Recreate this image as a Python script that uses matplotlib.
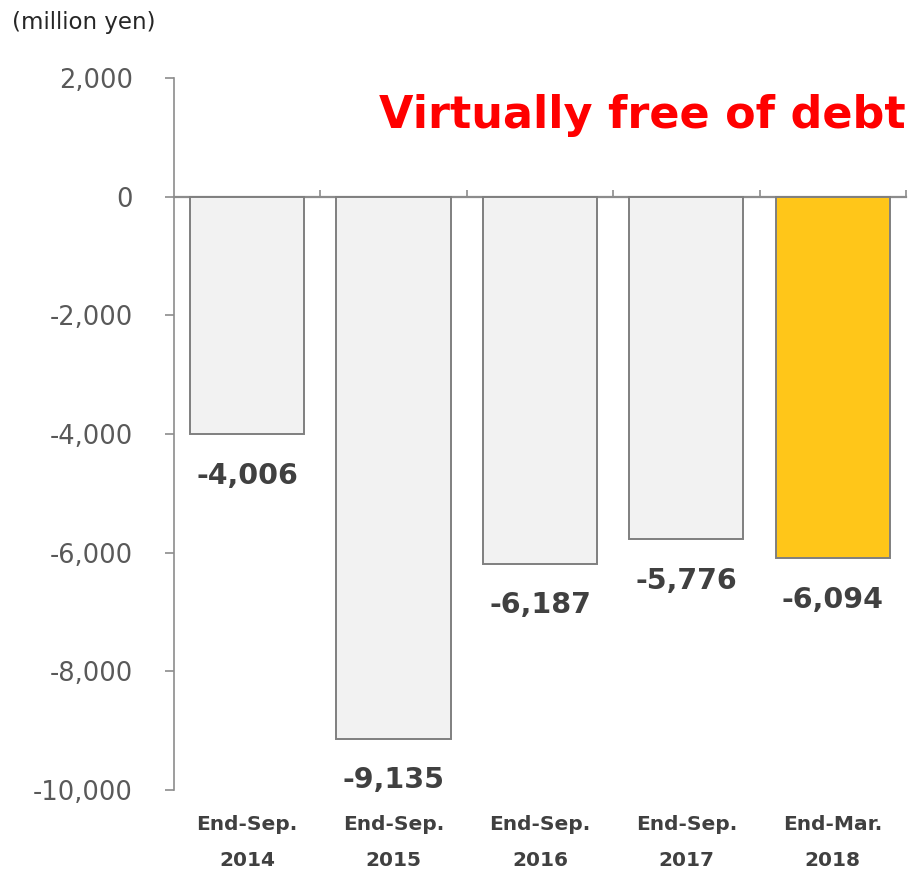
import matplotlib.pyplot as plt

periods = ["End-Sep.\n2014", "End-Sep.\n2015", "End-Sep.\n2016", "End-Sep.\n2017", "End-Mar.\n2018"]
net_debt = [-4006, -9135, -6187, -5776, -6094]
bar_colors = ["#f2f2f2", "#f2f2f2", "#f2f2f2", "#f2f2f2", "#ffc619"]
y_ticks = [2000, 0, -2000, -4000, -6000, -8000, -10000]

plt.rcParams['font.family'] = ['DejaVu Sans']
axis_gray = "#8c8c8c"
text_gray = "#404040"

fig = plt.figure(figsize=(9.09, 8.74), dpi=100)
ax = fig.add_axes([0.1914, 0.0961, 0.8053, 0.8147])

x = list(range(len(net_debt)))
ax.bar(x, net_debt, width=0.78, color=bar_colors, edgecolor="#7f7f7f", linewidth=1.4, zorder=2)

for xi, v in zip(x, net_debt):
    ax.annotate(f"{v:,}", (xi, v), xytext=(0, -30), textcoords="offset points",
                ha="center", va="center", fontsize=20.5, fontweight="bold", color=text_gray)

ax.set_xlim(-0.5, len(net_debt) - 0.5)
ax.set_ylim(-10000, 2000)
ax.set_yticks(y_ticks)
ax.set_yticklabels([f"{t:,}" for t in y_ticks])
ax.tick_params(axis="y", direction="out", length=6.5, width=1.2, color=axis_gray,
               labelsize=18.5, labelcolor="#595959", pad=23)

ax.set_xticks(x)
ax.set_xticklabels(periods, fontsize=14.5, fontweight="bold", color=text_gray, linespacing=2.1)
ax.tick_params(axis="x", length=0, pad=18)

for side in ["top", "right", "bottom"]:
    ax.spines[side].set_visible(False)
ax.spines["left"].set_color(axis_gray)
ax.spines["left"].set_linewidth(1.2)

# zero line with small upward ticks between the categories
zero_frac = (0 - ax.get_ylim()[0]) / (ax.get_ylim()[1] - ax.get_ylim()[0])
zero_axis = ax.secondary_xaxis(zero_frac)
zero_axis.set_xticks([i + 0.5 for i in x])
zero_axis.set_xticklabels([])
zero_axis.tick_params(direction="out", length=5, width=1.2, color=axis_gray)
for sp in zero_axis.spines.values():
    sp.set_color(axis_gray)
    sp.set_linewidth(1.6)

fig.text(0.013, 0.974, "(million yen)", fontsize=16.5, color="#262626", va="center", ha="left")
fig.text(0.996, 0.868, "Virtually free of debt", fontsize=32, fontweight="bold",
         color="#ff0000", va="center", ha="right")

fig.savefig("out.png", dpi=100)
